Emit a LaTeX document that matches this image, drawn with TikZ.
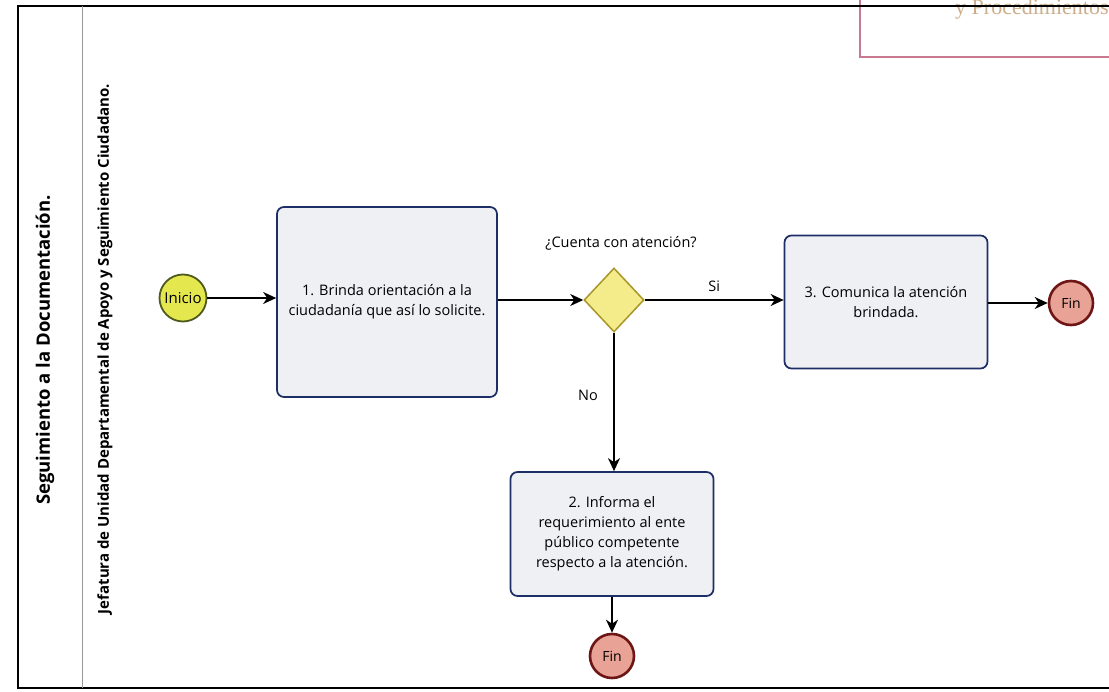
\documentclass[tikz,border=0pt]{standalone}
\usepackage{fontspec}
\setmainfont{Open Sans}
\newfontfamily\serifhead{Liberation Serif}
\usetikzlibrary{shapes.geometric,arrows.meta}
\definecolor{taskfill}{HTML}{EEF0F4}
\definecolor{taskdraw}{HTML}{1E2E66}
\definecolor{startfill}{HTML}{E4E84E}
\definecolor{startdraw}{HTML}{4E5A1E}
\definecolor{endfill}{HTML}{E9A396}
\definecolor{enddraw}{HTML}{6E1616}
\definecolor{gatefill}{HTML}{F4EB8A}
\definecolor{gatedraw}{HTML}{A8962A}
\definecolor{headbox}{HTML}{C97A90}
\definecolor{headtext}{HTML}{CDAE8C}
\tikzset{
  taskbox/.style={draw=taskdraw, line width=1.7pt, fill=taskfill, rounded corners=7pt,
    align=center, font=\fontsize{14.5}{20}\selectfont, inner sep=0pt},
  startev/.style={circle, draw=startdraw, line width=1.8pt, fill=startfill,
    minimum size=47pt, inner sep=0pt, font=\fontsize{15}{16}\selectfont},
  endev/.style={circle, draw=enddraw, line width=2.6pt, fill=endfill,
    minimum size=44pt, inner sep=0pt, font=\fontsize{14}{16}\selectfont},
  gateway/.style={diamond, draw=gatedraw, line width=1.5pt, fill=gatefill,
    minimum width=60pt, minimum height=64pt, inner sep=0pt, aspect=0.94},
  flow/.style={-{Stealth[length=13pt,width=12pt,inset=4pt]}, line width=1.5pt, black},
  lbl/.style={font=\fontsize{14.5}{16}\selectfont}
}
\begin{document}
\begin{tikzpicture}[x=1pt,y=-1pt]
\useasboundingbox (0,0) rectangle (1109,692);
\fill[white] (0,0) rectangle (1109,692);

% header box in the top right corner
\draw[headbox, line width=1.2pt] (860,-5) -- (860,57) -- (1115,57);
\node[anchor=base west, text=headtext, font=\serifhead\fontsize{22}{24}\selectfont, inner sep=0pt]
  (headtxt) at (955,15) {y Procedimientos};

% pool frame
\draw[black, line width=1.2pt] (1109,6) -- (18,6) -- (18,688) -- (1109,688);
\draw[gray!80, line width=0.9pt] (82,6) -- (82,688);

% pool and lane titles
\node[rotate=90, font=\bfseries\fontsize{18.5}{20}\selectfont] (pool) at (45,350)
  {Seguimiento a la Documentación.};
\node[rotate=90, font=\bfseries\fontsize{15}{17}\selectfont] (lane) at (105,349)
  {Jefatura de Unidad Departamental de Apoyo y Seguimiento Ciudadano.};

% events, tasks and gateway
\node[startev] (start) at (183,298) {Inicio};
\node[taskbox, minimum width=220pt, minimum height=190pt] (t1) at (387,302)
  {1. Brinda orientación a la\\ciudadanía que así lo solicite.};
\node[gateway] (gw) at (614,300) {};
\node[lbl, anchor=base] (q) at (621,248) {¿Cuenta con atención?};
\node[taskbox, minimum width=203pt, minimum height=133pt] (t3) at (886,302)
  {3. Comunica la atención\\brindada.};
\node[endev] (fin1) at (1071,303) {Fin};
\node[taskbox, minimum width=203pt, minimum height=124pt] (t2) at (612,534)
  {2. Informa el\\requerimiento al ente\\público competente\\respecto a la atención.};
\node[endev] (fin2) at (612,656) {Fin};

% sequence flows
\draw[flow] (start) -- (t1.west |- start);
\draw[flow] (t1.east |- gw) -- (gw.west);
\draw[flow] (gw.east) -- node[lbl, above=4pt] (si) {Si} (t3.west |- gw);
\draw[flow] (t3.east |- fin1) -- (fin1);
\draw[flow] (gw.south) -- node[lbl, pos=0.45, left=12pt] (no) {No} (t2.north -| gw);
\draw[flow] (t2) -- (fin2);
\end{tikzpicture}
\end{document}
